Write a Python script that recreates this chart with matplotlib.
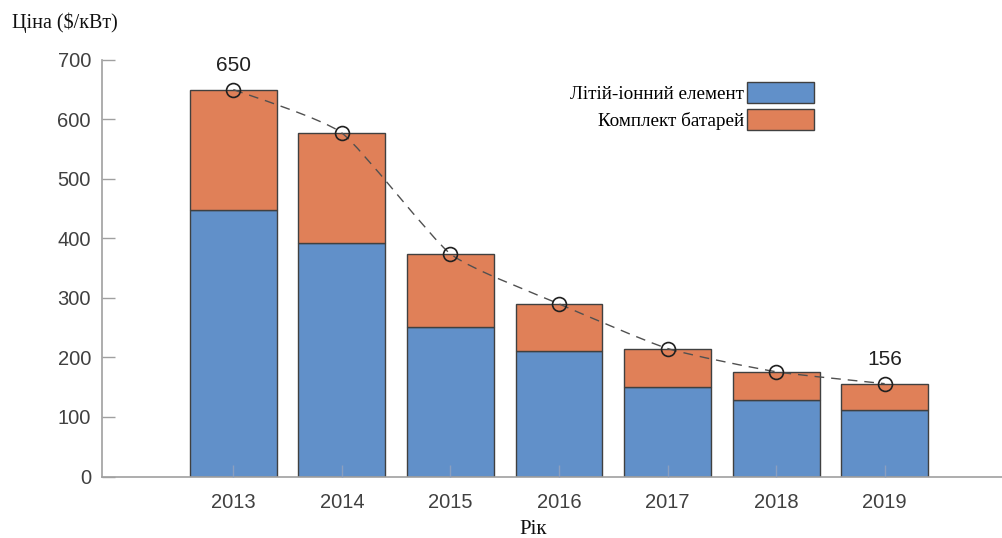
import numpy as np
import matplotlib.pyplot as plt
from matplotlib.path import Path
from matplotlib.patches import PathPatch, Patch

years = [2013, 2014, 2015, 2016, 2017, 2018, 2019]
cell_price = [447, 393, 252, 211, 151, 128, 112]
pack_price = [650, 577, 374, 290, 215, 176, 156]
pack_extra = [p - c for p, c in zip(pack_price, cell_price)]

blue = "#6190c9"
orange = "#e08058"
edge = "#404040"
axis_gray = "#a0a0a0"
serif = ["Liberation Serif", "DejaVu Serif"]
sans = ["Liberation Sans", "DejaVu Sans"]

fig = plt.figure(figsize=(10.03, 5.38), dpi=100)
ax = fig.add_axes([0.1017, 0.1143, 0.8983, 0.7745])

ax.bar(years, cell_price, width=0.8, color=blue, edgecolor=edge, linewidth=1, zorder=2)
ax.bar(years, pack_extra, width=0.8, bottom=cell_price, color=orange,
       edgecolor=edge, linewidth=1, zorder=2)

# lightly smoothed trend line through the pack totals (cubic Bezier segments)
k = 0.09
x = np.array(years, dtype=float)
y = np.array(pack_price, dtype=float)
verts = [(x[0], y[0])]
codes = [Path.MOVETO]
for i in range(len(x) - 1):
    x0, y0 = (x[i - 1], y[i - 1]) if i > 0 else (x[i], y[i])
    x3, y3 = (x[i + 2], y[i + 2]) if i + 2 < len(x) else (x[i + 1], y[i + 1])
    c1 = (x[i] + (x[i + 1] - x0) * k, y[i] + (y[i + 1] - y0) * k)
    c2 = (x[i + 1] - (x3 - x[i]) * k, y[i + 1] - (y3 - y[i]) * k)
    verts += [c1, c2, (x[i + 1], y[i + 1])]
    codes += [Path.CURVE4] * 3
ax.add_patch(PathPatch(Path(verts, codes), fill=False, edgecolor="#505050",
                       linestyle=(0, (7, 5)), linewidth=1, zorder=3))
ax.plot(years, pack_price, linestyle="none", marker="o", markersize=10,
        markerfacecolor="none", markeredgecolor="#202020", markeredgewidth=1.2, zorder=4)

ax.text(years[0], pack_price[0] + 24, str(pack_price[0]), ha="center", va="bottom",
        fontsize=15, color="#202020", family=sans)
ax.text(years[-1], pack_price[-1] + 24, str(pack_price[-1]), ha="center", va="bottom",
        fontsize=15, color="#202020", family=sans)

ax.set_xlim(2011.79, 2020.09)
ax.set_ylim(0, 700)
ax.set_xticks(years)
ax.set_yticks(range(0, 701, 100))
ax.set_axisbelow(False)
ax.tick_params(direction="in", length=9, width=1, color=axis_gray,
               labelsize=14.5, labelcolor="#404040")
ax.tick_params(axis="x", pad=12, color="#8a9fbf")
ax.tick_params(axis="y", pad=8)
for lab in ax.get_xticklabels() + ax.get_yticklabels():
    lab.set_family(sans)

for side in ["top", "right"]:
    ax.spines[side].set_visible(False)
for side in ["left", "bottom"]:
    ax.spines[side].set_color(axis_gray)
    ax.spines[side].set_linewidth(1.2)

fig.text(0.012, 0.958, "Ціна ($/кВт)", fontsize=14.5, family=serif, color="#101010",
         ha="left", va="center")
fig.text(0.532, 0.016, "Рік", fontsize=15, family=serif, color="#101010",
         ha="center", va="center")

handles = [Patch(facecolor=blue, edgecolor=edge), Patch(facecolor=orange, edgecolor=edge)]
leg = ax.legend(handles, ["Літій-іонний елемент", "Комплект батарей"],
                loc="upper right", bbox_to_anchor=(0.790, 0.946), markerfirst=False,
                frameon=False, borderpad=0, borderaxespad=0,
                handlelength=3.5, handleheight=1.3, handletextpad=0.15,
                labelspacing=0.32, prop={"family": serif, "size": 13.8})
for t in leg.get_texts():
    t.set_ha("right")

fig.savefig("out.png", dpi=100)
